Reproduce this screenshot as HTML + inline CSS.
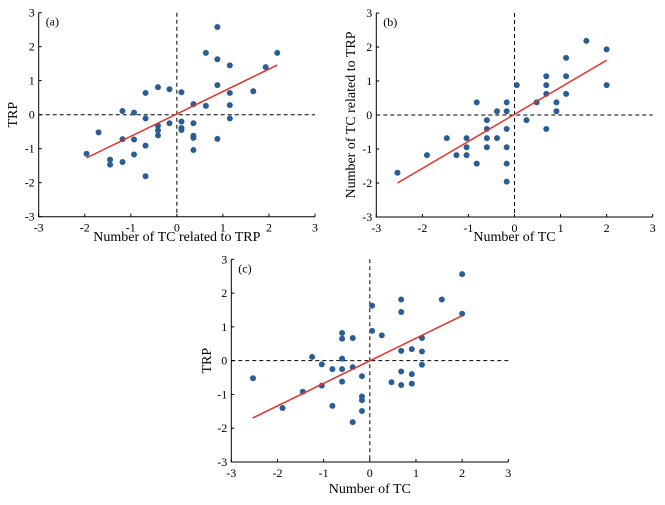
<!DOCTYPE html>
<html><head><meta charset="utf-8"><style>
body{margin:0;background:#fff;}
svg{display:block;font-family:"Liberation Serif",serif;}
</style></head><body>
<svg id="chart" width="665" height="505"></svg>
<script>
const ticks=[-3,-2,-1,0,1,2,3];
const tickLabels=["-3","-2","-1","0","1","2","3"];
const aX=[-1.96,-1.70,-1.45,-1.45,-1.18,-1.18,-1.18,-0.93,-0.93,-0.93,-0.68,-0.68,-0.68,-0.68,-0.41,-0.41,-0.41,-0.41,-0.16,-0.16,0.10,0.10,0.10,0.10,0.36,0.36,0.36,0.36,0.36,0.63,0.63,0.88,0.88,0.88,0.88,1.15,1.15,1.15,1.15,1.66,1.93,2.18];
const aY=[-1.15,-0.52,-1.32,-1.47,0.11,-0.72,-1.39,0.06,-0.73,-1.17,0.64,-0.11,-0.91,-1.81,0.81,-0.32,-0.46,-0.61,0.75,-0.25,0.66,-0.20,-0.39,-0.45,0.31,-0.25,-0.62,-0.68,-1.04,1.82,0.26,2.58,1.63,0.87,-0.71,1.45,0.64,0.28,-0.11,0.69,1.40,1.82];
const aFit=[[-1.96,-1.27],[2.18,1.46]];
const bX=[-2.54,-1.90,-1.47,-1.26,-1.04,-1.04,-1.04,-0.82,-0.82,-0.60,-0.60,-0.60,-0.60,-0.38,-0.38,-0.17,-0.17,-0.17,-0.17,-0.17,-0.17,0.05,0.26,0.48,0.69,0.69,0.69,0.69,0.91,0.91,1.12,1.12,1.12,1.56,2.0,2.0];
const bY=[-1.70,-1.18,-0.68,-1.18,-0.68,-0.95,-1.18,0.37,-1.43,-0.15,-0.41,-0.68,-0.95,0.11,-0.68,0.37,0.11,-0.41,-0.95,-1.43,-1.96,0.88,-0.15,0.37,1.14,0.88,0.62,-0.41,0.37,0.11,1.68,1.14,0.62,2.18,1.93,0.88];
const bFit=[[-2.54,-2.0],[2.0,1.61]];
const cX=[-2.53,-1.89,-1.45,-1.25,-1.04,-1.04,-0.81,-0.81,-0.60,-0.60,-0.60,-0.60,-0.60,-0.37,-0.37,-0.37,-0.17,-0.17,-0.17,-0.17,0.05,0.05,0.26,0.47,0.68,0.68,0.68,0.68,0.68,0.91,0.91,0.91,1.13,1.13,1.13,1.56,2.0,2.0];
const cY=[-0.52,-1.40,-0.92,0.11,-0.11,-0.74,-0.25,-1.34,0.82,0.65,0.06,-0.25,-0.62,0.67,-0.19,-1.82,-0.46,-1.06,-1.17,-1.49,1.63,0.88,0.75,-0.64,1.81,1.44,0.29,-0.32,-0.72,0.34,-0.40,-0.68,0.67,0.27,-0.12,1.81,2.56,1.39];
const cFit=[[-2.54,-1.70],[2.0,1.33]];

const NS="http://www.w3.org/2000/svg";
const svg=document.getElementById('chart');
function mk(tag,attrs,parent){const e=document.createElementNS(NS,tag);for(const k in attrs)e.setAttribute(k,attrs[k]);(parent||svg).appendChild(e);return e;}

function panel(id,L,R,T,B,xs,ys,fit,label,xTitle,yTitle,xTitleY,yTitleX){
  const g=mk('g',{});
  
  
  const sx=v=>L+(v+3)/6*(R-L);
  const sy=v=>B-(v+3)/6*(B-T);
  const ax=mk('path',{d:`M${L},${T} L${L},${B} L${R},${B}`,stroke:'#000','stroke-width':1,fill:'none'},g);
  
  
  ticks.forEach((t,i)=>{
    mk('line',{x1:sx(t),x2:sx(t),y1:B,y2:B-3,stroke:'#000'},g);
    mk('line',{x1:L,x2:L+3,y1:sy(t),y2:sy(t),stroke:'#000'},g);
    const xl=mk('text',{x:sx(t),y:B+15,'text-anchor':'middle','font-size':12},g);
    xl.textContent=tickLabels[i];
    
    
    const yl=mk('text',{x:L-4,y:sy(t)+4,'text-anchor':'end','font-size':12},g);
    yl.textContent=tickLabels[i];
    
    
  });
  const z1=mk('line',{x1:sx(0),x2:sx(0),y1:T,y2:B,stroke:'#000','stroke-dasharray':'4,3'},g);
  
  
  const z2=mk('line',{x1:L,x2:R,y1:sy(0),y2:sy(0),stroke:'#000','stroke-dasharray':'4,3'},g);
  
  
  xs.forEach((x,i)=>{
    const c=mk('circle',{cx:sx(x),cy:sy(ys[i]),r:3,fill:'#2a5d96'},g);
    
    
  });
  const fl=mk('line',{x1:sx(fit[0][0]),y1:sy(fit[0][1]),x2:sx(fit[1][0]),y2:sy(fit[1][1]),stroke:'#e8302a','stroke-width':1.5},g);
  
  
  const pl=mk('text',{x:L+7,y:T+13,'font-size':12},g);
  pl.textContent=label;
  
  
  const xt=mk('text',{x:(L+R)/2,y:xTitleY,'text-anchor':'middle','font-size':14},g);
  xt.textContent=xTitle;
  
  
  const cy=(T+B)/2;
  const yt=mk('text',{x:yTitleX,y:cy,'text-anchor':'middle','font-size':14,transform:`rotate(-90 ${yTitleX} ${cy})`},g);
  yt.textContent=yTitle;
  
  
}
panel('a',38.7,315,12.7,216.7,aX,aY,aFit,'(a)','Number of TC related to TRP','TRP',241,17);
panel('b',376.3,652.7,13,217,bX,bY,bFit,'(b)','Number of TC','Number of TC related to TRP',241,355);
panel('c',231.3,508.3,259.3,462,cX,cY,cFit,'(c)','Number of TC','TRP',493,211);
</script>
</body></html>
